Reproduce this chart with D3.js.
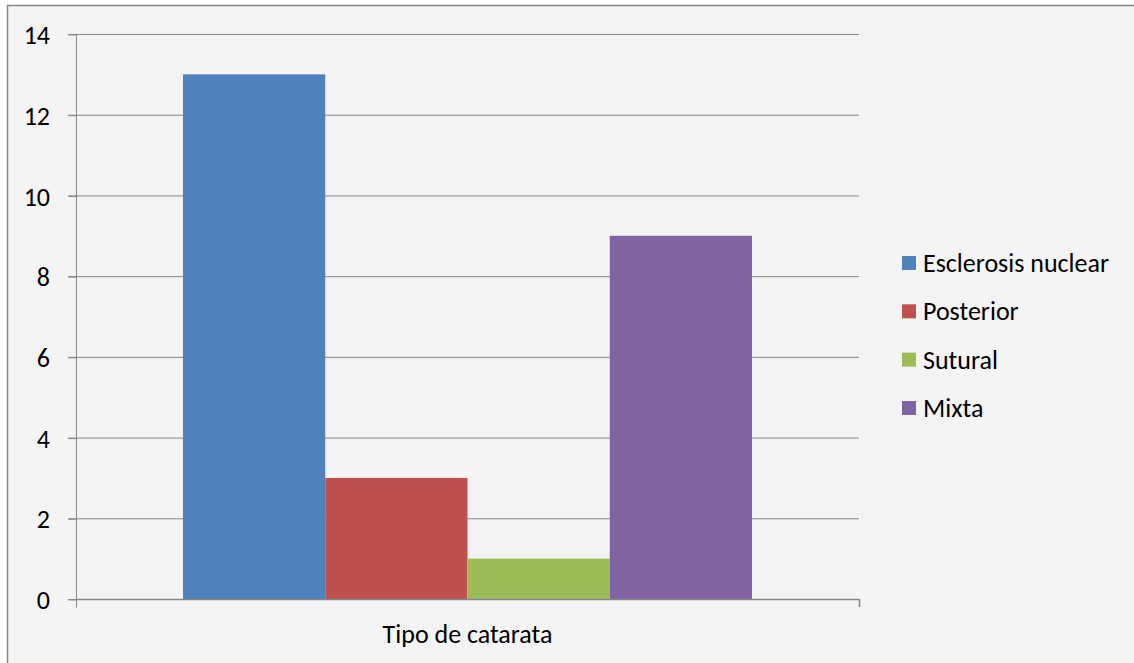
<!DOCTYPE html>
<html><head><meta charset="utf-8">
<script src="https://cdn.jsdelivr.net/npm/d3@7"></script>
<style>body{margin:0;background:#fff}svg{display:block}text{font-family:Carlito,Lato,"Open Sans",sans-serif;fill:#000}</style>
</head><body><svg id="c" width="1134" height="663"></svg>
<script>
const categories = ["Tipo de catarata"];
const seriesNames = ["Esclerosis nuclear","Posterior","Sutural","Mixta"];
const seriesValues = [13, 3, 1, 9];
const colors = ["#4f81bd","#c0504d","#9bbb59","#8064a2"];
const yTicks = [0,2,4,6,8,10,12,14];

(function(){
const FONT='Carlito,Lato,"Open Sans",sans-serif', FS=26;
const svg = d3.select("#c");
svg.append("rect").attr("x",7.5).attr("y",5.5).attr("width",1140).attr("height",670)
  .attr("fill","#f4f4f4").attr("stroke","#868686").attr("stroke-width",1.5);

const pL=76, pR=859, pT=34, pB=599;
const y = d3.scaleLinear().domain([0,14]).range([pB,pT]);
const x0 = d3.scaleBand().domain(categories).range([pL,pR]).paddingInner(0).paddingOuter(0.188);
const x1 = d3.scaleBand().domain(seriesNames).range([0,x0.bandwidth()]);
const g = svg.append("g");
g.selectAll("line.grid").data(yTicks).join("line")
  .attr("x1",68).attr("x2",pR).attr("y1",d=>y(d)+0.5).attr("y2",d=>y(d)+0.5)
  .attr("stroke","#868686").attr("stroke-width",1);

const grp = g.selectAll("g.grp").data(categories).join("g").attr("transform",d=>`translate(${x0(d)},0)`);
grp.selectAll("rect").data(seriesNames.map((n,i)=>({n,v:seriesValues[i],c:colors[i]}))).join("rect")
  .attr("x",d=>x1(d.n)).attr("width",x1.bandwidth()).attr("y",d=>y(d.v)).attr("height",d=>pB-y(d.v))
  .attr("fill",d=>d.c);

const yAxis = d3.axisLeft(y).tickValues(yTicks).tickSize(8).tickPadding(8);
const ya = svg.append("g").attr("transform",`translate(${pL+0.5},0.5)`).call(yAxis);
ya.select(".domain").attr("stroke","#868686").attr("d",`M0,${pT}V${pB+8}`);
ya.selectAll(".tick line").attr("stroke","#868686");
ya.selectAll(".tick text").attr("font-size",FS).attr("font-family",FONT).attr("fill","#000").attr("dy","0.35em").attr("x",-26.5);

svg.append("line").attr("x1",pL).attr("x2",pR+0.5).attr("y1",pB+0.5).attr("y2",pB+0.5).attr("stroke","#868686").attr("stroke-width",1.5);
svg.append("line").attr("x1",pR+0.5).attr("x2",pR+0.5).attr("y1",pB).attr("y2",pB+8).attr("stroke","#868686").attr("stroke-width",1.5);

svg.append("text").attr("x",x0(categories[0])+x0.bandwidth()/2).attr("y",643).attr("text-anchor","middle").attr("font-size",FS).text(categories[0]);

const leg = svg.append("g");
const ly = d3.scalePoint().domain(seriesNames).range([263,408]);
seriesNames.forEach((n,i)=>{
  leg.append("rect").attr("x",902).attr("y",ly(n)-7).attr("width",14).attr("height",14).attr("fill",colors[i]);
  leg.append("text").attr("x",923).attr("y",ly(n)).attr("dy","0.35em").attr("font-size",FS).text(n);
});
})();
</script></body></html>
